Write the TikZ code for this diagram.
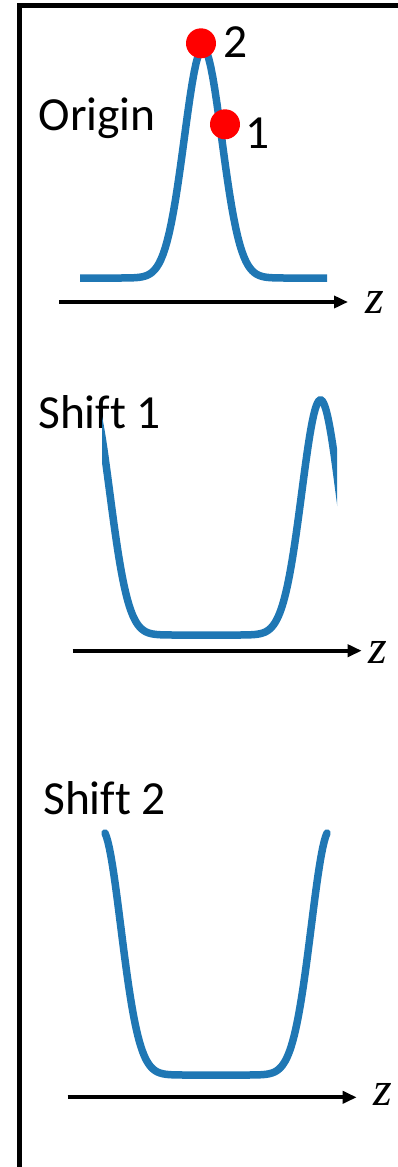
\documentclass[tikz,border=0pt]{standalone}
\usepackage{fontspec}
\setmainfont{Carlito}[Ligatures=CommonOff]
\newfontfamily\zfont{Liberation Serif}
\usetikzlibrary{arrows.meta}
\definecolor{plotblue}{RGB}{31,119,180}
\begin{document}
\begin{tikzpicture}[x=1pt,y=-1pt,
  declare function={bump(\u)=exp(-((\u)/26.5)*((\u)/26.5));},
  curve/.style={draw=plotblue,line width=7.5pt},
  axis/.style={line width=4.3pt,-{Triangle[length=14pt,width=12pt]}},
  lbl/.style={anchor=base west,inner sep=0pt,font=\fontsize{47.5}{50}\selectfont},
  zlbl/.style={anchor=base west,inner sep=0pt,font=\zfont\itshape\fontsize{48}{50}\selectfont},
  dot/.style={circle,fill=red,minimum size=30pt,inner sep=0pt}]
\useasboundingbox (0,0) rectangle (397,1167);
\draw[line width=4.8pt] (400,5.8) -- (19.5,5.8) -- (19.5,1170);

% origin
\node[lbl] (origin) at (38.5,130) {Origin};
\draw[curve] plot[domain=80:327,samples=120] (\x,{278-230*bump(\x-203)});
\node[dot] (dottwo) at (201,43.3) {};
\node[dot] (dotone) at (225,124.3) {};
\node[lbl] (numtwo) at (223,57) {2};
\node[lbl] (numone) at (245,148) {1};
\coordinate (oa0) at (59.3,302);
\coordinate (oa1) at (348,302);
\draw[axis] (oa0) -- (oa1);
\node[zlbl] (oz) at (365,313) {z};

% shift 1
\node[lbl] (shiftone) at (38,428) {Shift 1};
\begin{scope}
\clip (102,380) rectangle (337,660);
\draw[curve] plot[domain=95:345,samples=200] (\x,{635-235*(bump(\x-91)+bump(\x-320.5))});
\end{scope}
\coordinate (sa0) at (72.7,650.7);
\coordinate (sa1) at (361.7,650.7);
\draw[axis] (sa0) -- (sa1);
\node[zlbl] (sz) at (368,663) {z};

% shift 2
\node[lbl] (shifttwo) at (43,814) {Shift 2};
\draw[curve,line cap=round] plot[domain=105:327,samples=150] (\x,{1075-245*(bump(\x-102)+bump(\x-330))});
\coordinate (ta0) at (67.7,1097.3);
\coordinate (ta1) at (356.7,1097.3);
\draw[axis] (ta0) -- (ta1);
\node[zlbl] (tz) at (373,1105) {z};
\end{tikzpicture}
\end{document}
